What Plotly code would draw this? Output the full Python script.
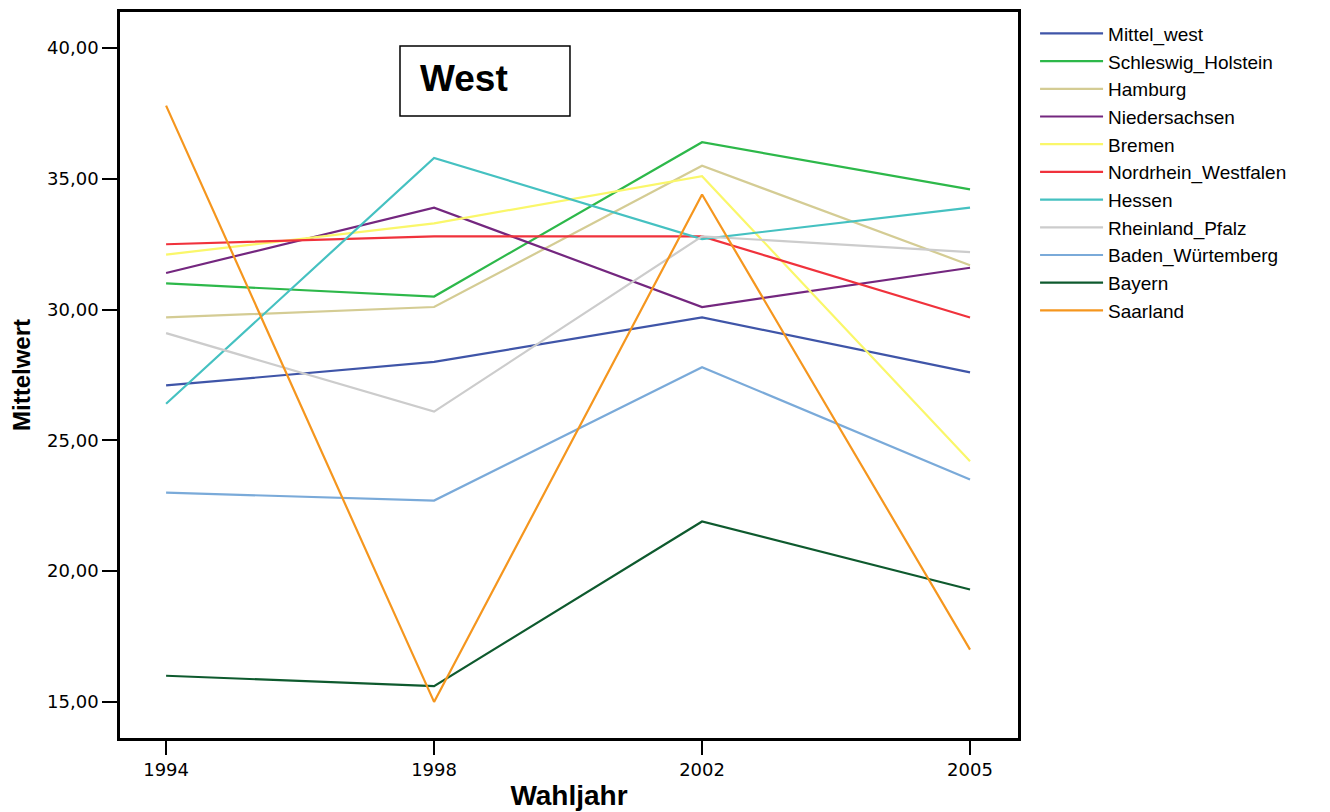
import plotly.graph_objects as go

years = ["1994", "1998", "2002", "2005"]
series_names = ["Mittel_west", "Schleswig_Holstein", "Hamburg", "Niedersachsen", "Bremen",
                "Nordrhein_Westfalen", "Hessen", "Rheinland_Pfalz", "Baden_Würtemberg",
                "Bayern", "Saarland"]
mittel_west = [27.1, 28.0, 29.7, 27.6]
schleswig_holstein = [31.0, 30.5, 36.4, 34.6]
hamburg = [29.7, 30.1, 35.5, 31.7]
niedersachsen = [31.4, 33.9, 30.1, 31.6]
bremen = [32.1, 33.3, 35.1, 24.2]
nordrhein_westfalen = [32.5, 32.8, 32.8, 29.7]
hessen = [26.4, 35.8, 32.7, 33.9]
rheinland_pfalz = [29.1, 26.1, 32.8, 32.2]
baden_wuertemberg = [23.0, 22.7, 27.8, 23.5]
bayern = [16.0, 15.6, 21.9, 19.3]
saarland = [37.8, 15.0, 34.4, 17.0]

values = [mittel_west, schleswig_holstein, hamburg, niedersachsen, bremen,
          nordrhein_westfalen, hessen, rheinland_pfalz, baden_wuertemberg, bayern, saarland]
colors = ["#3F55A8", "#2DB84A", "#D4CC94", "#74277F", "#FAF76A", "#F0323C",
          "#45C1C1", "#CCCCCC", "#7AAAD9", "#0E5A2E", "#F5961E"]

y_ticks = [15, 20, 25, 30, 35, 40]
y_tick_labels = ["15,00", "20,00", "25,00", "30,00", "35,00", "40,00"]

fig = go.Figure()
for name, vals, col in zip(series_names, values, colors):
    fig.add_trace(go.Scatter(x=years, y=vals, mode="lines", name=name,
                             line=dict(color=col, width=2.2)))

fig.update_layout(
    width=1322, height=804,
    margin=dict(l=112, r=312, t=4, b=74, autoexpand=False),
    paper_bgcolor="white", plot_bgcolor="white",
    font=dict(family="Liberation Sans, Arial, sans-serif", color="black"),
    showlegend=True,
    legend=dict(x=1.019, y=0.9965, xanchor="left", yanchor="top",
                font=dict(size=19, family="Liberation Sans, Arial, sans-serif"),
                itemwidth=63, tracegroupgap=0, bgcolor="rgba(0,0,0,0)"),
    xaxis=dict(type="category", range=[-0.172, 3.179], automargin=False,
               showline=True, linecolor="black", linewidth=2.5, mirror=True,
               ticks="outside", ticklen=14, tickwidth=2, tickcolor="black",
               showgrid=False, zeroline=False,
               tickfont=dict(size=18, family="DejaVu Sans, Liberation Sans, Arial"),
               title=dict(text="<b>Wahljahr</b>", standoff=7,
                          font=dict(size=28, family="Liberation Sans, Arial"))),
    yaxis=dict(range=[13.62, 41.38], tickvals=y_ticks, ticktext=y_tick_labels,
               automargin=False,
               showline=True, linecolor="black", linewidth=2.5, mirror=True,
               ticks="outside", ticklen=15, tickwidth=2, tickcolor="black",
               showgrid=False, zeroline=False,
               tickfont=dict(size=18, family="DejaVu Sans, Liberation Sans, Arial"),
               title=dict(text="<b>Mittelwert</b>", standoff=10,
                          font=dict(size=24, family="Liberation Sans, Arial"))),
    shapes=[dict(type="rect", xref="paper", yref="paper",
                 x0=0.3118, x1=0.5011, y0=0.8567, y1=0.9532,
                 line=dict(color="black", width=1.5), fillcolor="white", layer="above")],
    annotations=[dict(xref="paper", yref="paper", x=0.3318, y=0.909,
                      xanchor="left", yanchor="middle",
                      text="<b>West</b>", showarrow=False,
                      font=dict(size=37, family="Liberation Sans, Arial", color="black"))],
)

fig.write_html("out.html")
